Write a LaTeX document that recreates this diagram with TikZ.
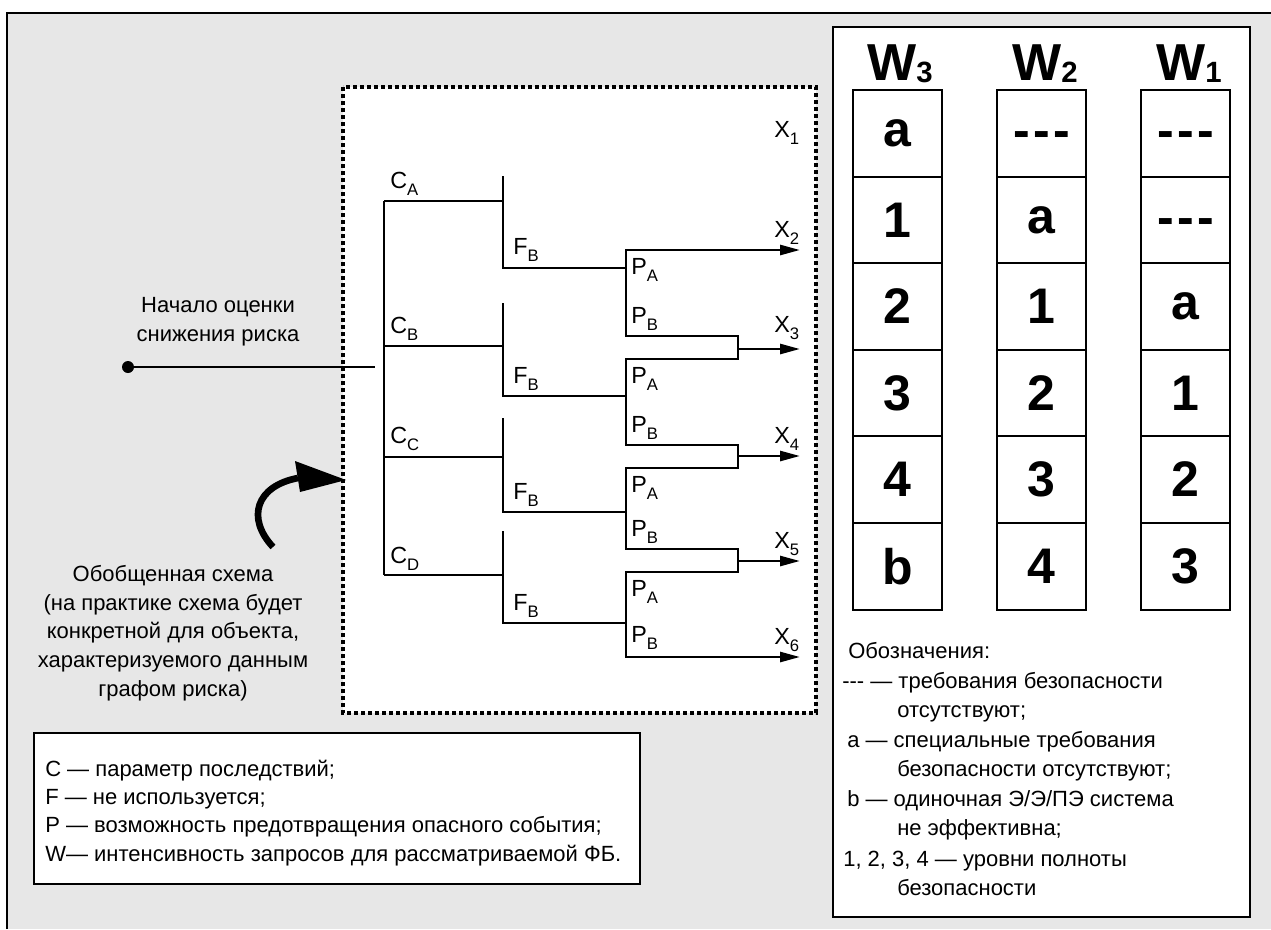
\documentclass[tikz,border=0pt]{standalone}
\usepackage{fontspec}
\setmainfont{Liberation Sans}
\usetikzlibrary{arrows.meta}

\definecolor{bggray}{RGB}{231,231,231}
\newcommand{\lowsub}[1]{\raisebox{-5.4pt}{\fontsize{12.5}{14}\selectfont #1}}
\newcommand{\wsub}[1]{\raisebox{-2.2pt}{\fontsize{22}{24}\selectfont #1}}

\tikzset{
  tree/.style={line width=2pt},
  >={Triangle[length=15pt,width=7.5pt]},
  lbl/.style={anchor=base west,inner sep=0pt,font=\fontsize{17.5}{20}\selectfont},
  txt/.style={inner sep=0pt,font=\fontsize{16.5}{21.5}\selectfont},
  cell/.style={draw,line width=1.5pt,minimum width=66.75pt,minimum height=65pt,inner sep=0pt,font=\fontsize{37.5}{40}\selectfont\bfseries},
  dashcell/.style={cell,text height=21pt,text depth=0pt},
  whead/.style={anchor=base,inner sep=0pt,font=\fontsize{39}{42}\selectfont\bfseries},
  frame/.style={line width=1.5pt}
}

\begin{document}
\begin{tikzpicture}[x=0.75pt,y=0.75pt,yscale=-1,xscale=1]
\path[use as bounding box] (0,0) rectangle (1271,929);

%Shape: Background
\fill[bggray] (7,13) rectangle (1271,929);
\draw[frame] (7,929) -- (7,13) -- (1271,13);

%Shape: Dotted frame of the graph
\draw[fill=white,line width=3pt,dash pattern=on 3pt off 2.25pt] (343,87) rectangle (816,713);

%Shape: Table frame
\draw[frame,fill=white] (833,27) rectangle (1250,917);
%Shape: Legend frame
\draw[frame,fill=white] (34,733) rectangle (640,884);

%Start of the graph
\coordinate (start) at (128,367);
\coordinate (root) at (375,367);
\fill (start) circle (4.5pt);
\draw[line width=1.6pt] (start) -- (root);

%Straight Lines: trunk and C branches
\draw[tree] (384,201) -- (384,575);
\draw[tree] (384,201) -- (503,201);
\draw[tree] (384,346) -- (503,346);
\draw[tree] (384,457) -- (503,457);
\draw[tree] (384,575) -- (503,575);

%Straight Lines: F branches
\draw[tree] (503,176) -- (503,268) -- (626,268);
\draw[tree] (503,303) -- (503,396) -- (626,396);
\draw[tree] (503,418) -- (503,512) -- (626,512);
\draw[tree] (503,531) -- (503,623) -- (626,623);

%Straight Lines: P branches
\coordinate (x2) at (800,250);
\coordinate (x6) at (800,657);
\draw[tree,<->] (x2) -- (626,250) -- (626,336) -- (738,336) -- (738,359) -- (626,359)
  -- (626,445) -- (738,445) -- (738,468) -- (626,468)
  -- (626,549) -- (738,549) -- (738,572) -- (626,572) -- (626,657) -- (x6);
\coordinate (m3) at (738,349);
\coordinate (x3) at (800,349);
\coordinate (m4) at (738,456);
\coordinate (x4) at (800,456);
\coordinate (m5) at (738,561);
\coordinate (x5) at (800,561);
\draw[tree,->] (m3) -- (x3);
\draw[tree,->] (m4) -- (x4);
\draw[tree,->] (m5) -- (x5);

%Curved arrow
\draw[line width=5pt] (273,547) .. controls (246,518) and (256,486) .. (298,478);
\fill (295,461) -- (346,480) -- (300,492) -- cycle;

% Text Node
\node[lbl] (ca) at (390,188) {C\lowsub{A}};
\node[lbl] (cb) at (390,333) {C\lowsub{B}};
\node[lbl] (cc) at (390,443) {C\lowsub{C}};
\node[lbl] (cd) at (390,563) {C\lowsub{D}};
% Text Node
\node[lbl] (fb1) at (513,254) {F\lowsub{B}};
\node[lbl] (fb2) at (513,383) {F\lowsub{B}};
\node[lbl] (fb3) at (513,499) {F\lowsub{B}};
\node[lbl] (fb4) at (513,610) {F\lowsub{B}};
% Text Node
\node[lbl] (pa1) at (631,274) {P\lowsub{A}};
\node[lbl] (pb1) at (631,323) {P\lowsub{B}};
\node[lbl] (pa2) at (631,383) {P\lowsub{A}};
\node[lbl] (pb2) at (631,432) {P\lowsub{B}};
\node[lbl] (pa3) at (631,492) {P\lowsub{A}};
\node[lbl] (pb3) at (631,536) {P\lowsub{B}};
\node[lbl] (pa4) at (631,596) {P\lowsub{A}};
\node[lbl] (pb4) at (631,642) {P\lowsub{B}};
% Text Node
\node[lbl] (lx1) at (774,137) {X\lowsub{1}};
\node[lbl] (lx2) at (774,237) {X\lowsub{2}};
\node[lbl] (lx3) at (774,332) {X\lowsub{3}};
\node[lbl] (lx4) at (774,443) {X\lowsub{4}};
\node[lbl] (lx5) at (774,548) {X\lowsub{5}};
\node[lbl] (lx6) at (774,644) {X\lowsub{6}};

% Text Node
\node[txt,align=center,anchor=north] (nachalo) at (218,297) {Начало оценки\\снижения риска};
% Text Node
\node[txt,align=center,anchor=north] (obsch) at (173,565) {Обобщенная схема\\(на практике схема будет\\конкретной для объекта,\\характеризуемого данным\\графом риска)};
% Text Node
\node[txt,align=left,anchor=north west,font=\fontsize{16.5}{21.1}\selectfont] (legend) at (45,760) {C — параметр последствий;\\F — не используется;\\P — возможность предотвращения опасного события;\\W— интенсивность запросов для рассматриваемой ФБ.};

% Table headings
\node[whead] (hw3) at (900,80) {W\wsub{3}};
\node[whead] (hw2) at (1045,80) {W\wsub{2}};
\node[whead] (hw1) at (1189,80) {W\wsub{1}};

% Table cells, column W3
\node[cell] (w3r1) at (897.5,133.5) {a};
\node[cell] (w3r2) at (897.5,220) {1};
\node[cell] (w3r3) at (897.5,306.5) {2};
\node[cell] (w3r4) at (897.5,393) {3};
\node[cell] (w3r5) at (897.5,479.5) {4};
\node[cell] (w3r6) at (897.5,566.5) {b};
% Table cells, column W2
\node[dashcell] (w2r1) at (1041.5,133.5) {-\kern2.5pt-\kern2.5pt-};
\node[cell] (w2r2) at (1041.5,220) {a};
\node[cell] (w2r3) at (1041.5,306.5) {1};
\node[cell] (w2r4) at (1041.5,393) {2};
\node[cell] (w2r5) at (1041.5,479.5) {3};
\node[cell] (w2r6) at (1041.5,566.5) {4};
% Table cells, column W1
\node[dashcell] (w1r1) at (1185.5,133.5) {-\kern2.5pt-\kern2.5pt-};
\node[dashcell] (w1r2) at (1185.5,220) {-\kern2.5pt-\kern2.5pt-};
\node[cell] (w1r3) at (1185.5,306.5) {a};
\node[cell] (w1r4) at (1185.5,393) {1};
\node[cell] (w1r5) at (1185.5,479.5) {2};
\node[cell] (w1r6) at (1185.5,566.5) {3};

% Text Node: designations
\node[txt,anchor=base west] (oboz) at (848,658) {Обозначения:};
\node[txt,anchor=base west] (leg1) at (842,688) {-{}-{}- — требования безопасности};
\node[txt,anchor=base west] (leg1b) at (897,717) {отсутствуют;};
\node[txt,anchor=base west] (leg2) at (847,747) {a — специальные требования};
\node[txt,anchor=base west] (leg2b) at (897,776) {безопасности отсутствуют;};
\node[txt,anchor=base west] (leg3) at (847,806) {b — одиночная Э/Э/ПЭ система};
\node[txt,anchor=base west] (leg3b) at (897,835) {не эффективна;};
\node[txt,anchor=base west] (leg4) at (843,866) {1, 2, 3, 4 — уровни полноты};
\node[txt,anchor=base west] (leg4b) at (897,895) {безопасности};

\end{tikzpicture}
\end{document}
